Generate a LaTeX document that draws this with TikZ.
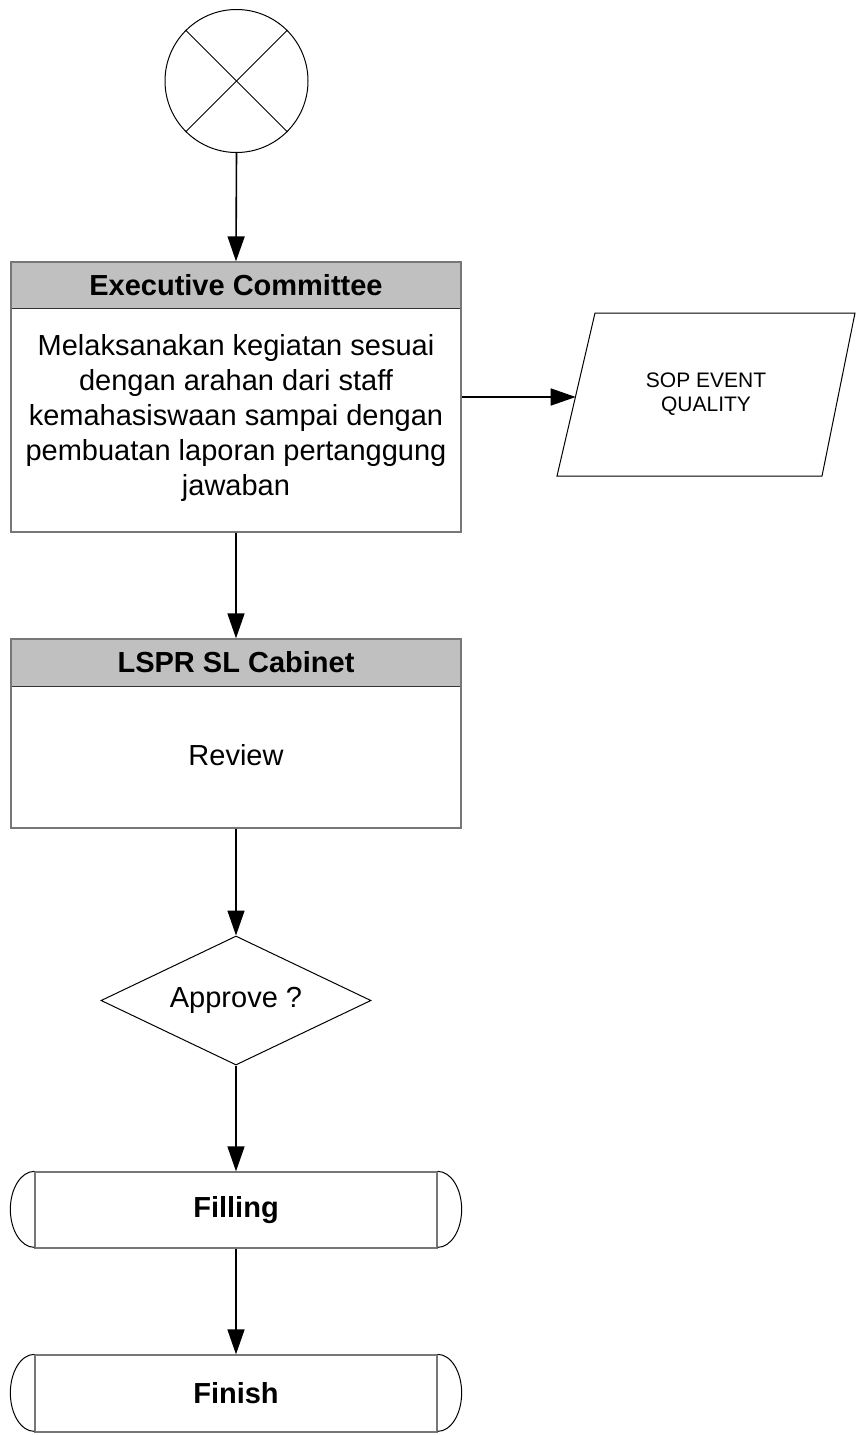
\documentclass[tikz,border=0pt]{standalone}
\usepackage{fontspec}
\setmainfont{Liberation Sans}
\usetikzlibrary{shapes.geometric,arrows.meta}
\definecolor{hdr}{HTML}{C0C0C0}
\definecolor{edge}{HTML}{777777}
\definecolor{sepline}{HTML}{333333}
\tikzset{
  outerbox/.style={draw=edge, line width=1.3pt, minimum width=450pt, inner sep=0pt},
  hdrbox/.style={fill=hdr, minimum width=450pt, inner sep=0pt, font=\fontsize{29}{35}\selectfont\bfseries},
  bodytxt/.style={align=center, font=\fontsize{29}{35}\selectfont, inner sep=0pt},
  flow/.style={draw=black, line width=1.6pt, -{Triangle[length=25pt,width=17pt]}},
  thinline/.style={draw=black, line width=1pt},
  termbox/.style={draw=edge, line width=1.3pt, minimum width=402pt, minimum height=76pt, inner sep=0pt, font=\fontsize{29}{35}\selectfont\bfseries},
}
\begin{document}
\begin{tikzpicture}[x=1pt,y=-1pt]
\useasboundingbox (0,0) rectangle (856,1435);

% start symbol
\node[circle, thinline, minimum size=143pt, inner sep=0pt] (start) at (236.5,81) {};
\draw[thinline] (start.45) -- (start.225);
\draw[thinline] (start.135) -- (start.-45);

% Executive Committee
\node[hdrbox, minimum height=46pt] (exechead) at (236,285) {Executive Committee};
\draw[sepline, line width=1.3pt] (exechead.south west) -- (exechead.south east);
\node[outerbox, minimum height=270pt] (exec) at (236,397) {};
\node[bodytxt] (exectxt) at (236,418) {Melaksanakan kegiatan sesuai\\dengan arahan dari staff\\kemahasiswaan sampai dengan\\pembuatan laporan pertanggung\\jawaban};

% SOP document
\draw[thinline] (557,476) -- (595,313) -- (855,313) -- (822,476) -- cycle;
\coordinate (sopin) at (575.7,397);
\node[align=center, inner sep=0pt, font=\fontsize{21}{24}\selectfont] (sop) at (706,394) {SOP EVENT\\QUALITY};

% LSPR SL Cabinet
\node[hdrbox, minimum height=47pt] (lsprhead) at (236,662.5) {LSPR SL Cabinet};
\draw[sepline, line width=1.3pt] (lsprhead.south west) -- (lsprhead.south east);
\node[outerbox, minimum height=189pt] (lspr) at (236,733.5) {};
\node[bodytxt] (lsprtxt) at (236,755) {Review};

% decision
\node[diamond, thinline, aspect=2.1, minimum width=270pt, minimum height=129pt, inner sep=0pt, font=\fontsize{29}{35}\selectfont] (dia) at (236,1000.5) {Approve ?};

% terminals
\node[termbox] (fill) at (236,1210) {Filling};
\draw[thinline] (fill.north west) arc[start angle=-90, end angle=-270, x radius=24, y radius=38];
\draw[thinline] (fill.north east) arc[start angle=-90, end angle=90, x radius=24, y radius=38];

\node[termbox, minimum height=77pt] (finish) at (236,1393.5) {Finish};
\draw[thinline] (finish.north west) arc[start angle=-90, end angle=-270, x radius=24, y radius=38.5];
\draw[thinline] (finish.north east) arc[start angle=-90, end angle=90, x radius=24, y radius=38.5];

% connectors
\draw[flow] (start.south) -- (exec.north);
\draw[flow] (exec.east) -- (sopin);
\draw[flow] (exec.south) -- (lspr.north);
\draw[flow] (lspr.south) -- (dia.north);
\draw[flow] (dia.south) -- (fill.north);
\draw[flow] (fill.south) -- (finish.north);
\end{tikzpicture}
\end{document}
